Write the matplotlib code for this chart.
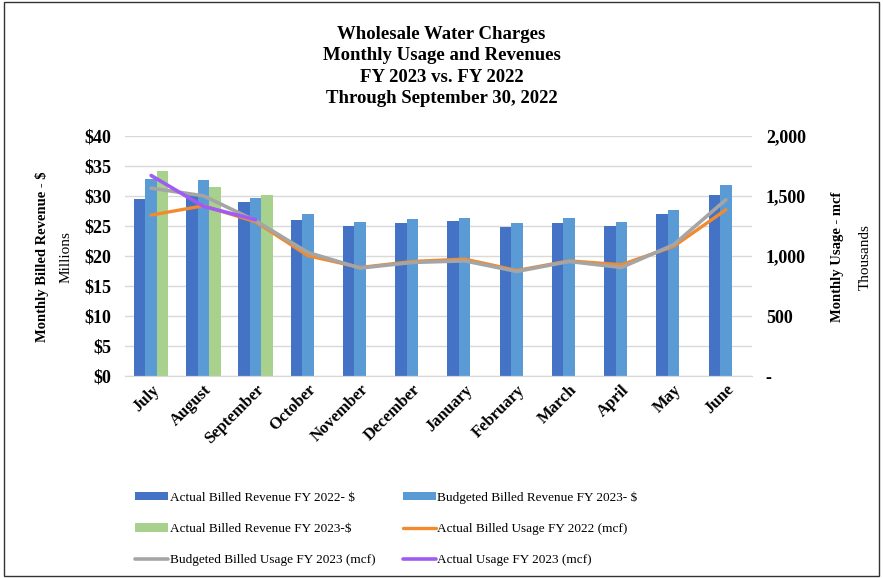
import matplotlib.pyplot as plt
import numpy as np
from matplotlib.patches import Rectangle
from matplotlib.ticker import FuncFormatter

plt.rcParams['font.family'] = ['Liberation Serif', 'DejaVu Serif']

months = ['July', 'August', 'September', 'October', 'November', 'December',
          'January', 'February', 'March', 'April', 'May', 'June']

# revenue, $ millions
actual_rev_2022 = [29.5, 30.2, 29.0, 26.0, 25.0, 25.5, 25.8, 24.8, 25.5, 25.0, 27.0, 30.1]
budget_rev_2023 = [32.9, 32.6, 29.7, 27.0, 25.7, 26.2, 26.3, 25.5, 26.3, 25.7, 27.7, 31.9]
actual_rev_2023 = [34.1, 31.5, 30.2, np.nan, np.nan, np.nan, np.nan, np.nan, np.nan, np.nan, np.nan, np.nan]

# usage, thousands of mcf
actual_use_2022 = [1341, 1418, 1285, 1003, 905, 955, 975, 880, 960, 928, 1080, 1385]
budget_use_2023 = [1565, 1501, 1294, 1030, 900, 947, 960, 872, 955, 905, 1094, 1468]
actual_use_2023 = [1670, 1413, 1302]

c_dark = '#4472C4'
c_light = '#5B9BD5'
c_green = '#A9D18E'
c_orange = '#F28A2E'
c_gray = '#A5A5A5'
c_purple = '#9E5CF2'

fig = plt.figure(figsize=(8.83, 5.78), dpi=100)
fig.patches.append(Rectangle((0.004, 0.004), 0.992, 0.992, transform=fig.transFigure,
                             fill=False, edgecolor='#333333', linewidth=1.0))

ax = fig.add_axes([0.1416, 0.349, 0.7100, 0.416])
ax2 = ax.twinx()

x = np.arange(len(months))
w = 0.22
ax.bar(x - w, actual_rev_2022, w, color=c_dark, label='Actual Billed Revenue FY 2022- $', zorder=2)
ax.bar(x, budget_rev_2023, w, color=c_light, label='Budgeted Billed Revenue FY 2023- $', zorder=2)
ax.bar(x + w, actual_rev_2023, w, color=c_green, label='Actual Billed Revenue FY 2023-$', zorder=2)

ax2.plot(x, actual_use_2022, color=c_orange, lw=2.4, label='Actual Billed Usage FY 2022 (mcf)',
         solid_capstyle='round')
ax2.plot(x, budget_use_2023, color=c_gray, lw=2.6, label='Budgeted Billed Usage FY 2023 (mcf)',
         solid_capstyle='round')
ax2.plot(x[:len(actual_use_2023)], actual_use_2023, color=c_purple, lw=2.6,
         label='Actual Usage FY 2023 (mcf)', solid_capstyle='round')

ax.set_xlim(-0.5, len(months) - 0.5)
ax.set_ylim(0, 40)
ax.set_yticks(range(0, 41, 5))
ax.yaxis.set_major_formatter(FuncFormatter(lambda v, p: '$%d' % v))
ax2.set_ylim(0, 2000)
ax2.set_yticks(range(0, 2001, 500))
ax2.yaxis.set_major_formatter(FuncFormatter(lambda v, p: '-' if v == 0 else '{:,.0f}'.format(v)))

ax.grid(axis='y', color='#D9D9D9', lw=1.0, zorder=0)
ax.set_axisbelow(True)
for a in (ax, ax2):
    for s in ('top', 'left', 'right'):
        a.spines[s].set_visible(False)
    a.spines['bottom'].set_color('#D9D9D9')
    a.tick_params(length=0)
ax.tick_params(axis='y', labelsize=13, pad=10)
ax2.tick_params(axis='y', labelsize=13, pad=10)
for lbl in ax.get_yticklabels() + ax2.get_yticklabels():
    lbl.set_fontweight('bold')

ax.set_xticks(x)
ax.set_xticklabels(months, rotation=45, ha='right', rotation_mode='anchor',
                   fontsize=12, fontweight='bold')
ax.tick_params(axis='x', pad=4)

fig.text(0.047, 0.555, 'Monthly Billed Revenue - $', rotation=90, ha='center', va='center',
         fontsize=10.5, fontweight='bold')
fig.text(0.075, 0.555, 'Millions', rotation=90, ha='center', va='center', fontsize=11)
fig.text(0.949, 0.555, 'Monthly Usage - mcf', rotation=90, ha='center', va='center',
         fontsize=10.5, fontweight='bold')
fig.text(0.980, 0.555, 'Thousands', rotation=90, ha='center', va='center', fontsize=11)

fig.text(0.5, 0.885, 'Wholesale Water Charges\nMonthly Usage and Revenues\nFY 2023 vs. FY 2022\nThrough September 30, 2022',
         ha='center', va='center', fontsize=13.5, fontweight='bold', linespacing=1.32)

h1, l1 = ax.get_legend_handles_labels()
h2, l2 = ax2.get_legend_handles_labels()
handles = [h1[0], h1[2], h2[1], h1[1], h2[0], h2[2]]
labels = [l1[0], l1[2], l2[1], l1[1], l2[0], l2[2]]
fig.legend(handles, labels, ncol=2, loc='lower left', bbox_to_anchor=(0.140, 0.0),
           frameon=False, fontsize=9.5, handlelength=2.5, handleheight=0.6,
           handletextpad=0.1, columnspacing=2.1, labelspacing=1.45)

fig.savefig('out.png', dpi=100)
